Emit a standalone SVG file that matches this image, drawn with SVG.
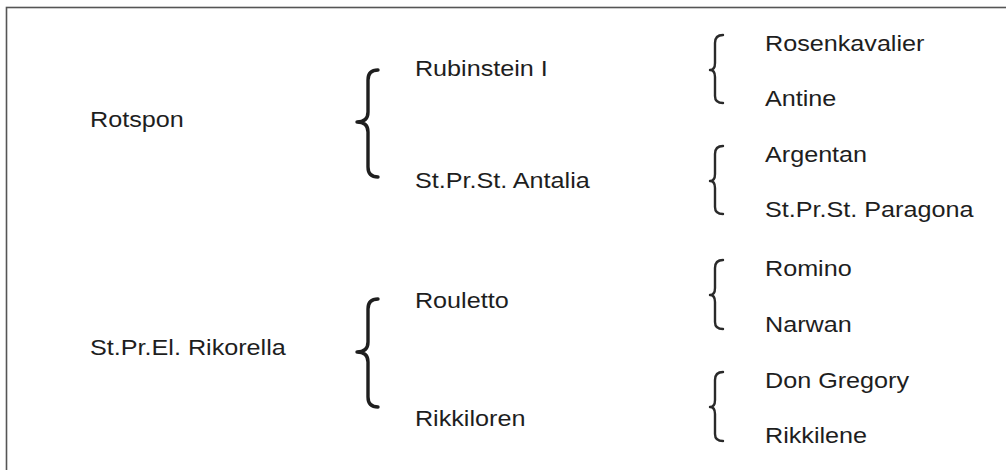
<svg xmlns="http://www.w3.org/2000/svg" width="1006" height="470" viewBox="0 0 1006 470">
<style>
.t{font-family:"Liberation Sans",Arial,sans-serif;font-size:22px;fill:#1e1e1e}
.big{fill:none;stroke:#1e1e1e;stroke-width:3.4;stroke-linecap:round;stroke-linejoin:round}
.sm{fill:none;stroke:#2a2a2a;stroke-width:2.4;stroke-linecap:round;stroke-linejoin:round}
</style>
<rect x="6.5" y="7.5" width="1010" height="480" fill="#fff" stroke="#555" stroke-width="1.6"/>
<g id="connectors">
<path class="big" d="M378,70 Q368,70 368,80 L368,112 Q368,122 357,122 Q368,122 368,132 L368,167 Q368,177 378,177"/>
<path class="big" d="M378,299 Q368,299 368,309 L368,342 Q368,352 357,352 Q368,352 368,362 L368,397 Q368,407 378,407"/>
<path class="sm" d="M723,35 Q715,35 715,43 L715,63 Q715,70 710,70 Q715,70 715,77 L715,96 Q715,103 723,103"/>
<path class="sm" d="M723,146 Q715,146 715,154 L715,174 Q715,181 710,181 Q715,181 715,188 L715,207 Q715,214 723,214"/>
<path class="sm" d="M723,260 Q715,260 715,268 L715,288 Q715,295 710,295 Q715,295 715,302 L715,322 Q715,329 723,329"/>
<path class="sm" d="M723,372 Q715,372 715,380 L715,400 Q715,407 710,407 Q715,407 715,414 L715,434 Q715,441 723,441"/>
</g>
<g transform="scale(1.145 1)">
<g id="n-rotspon"><text class="t" x="78.6" y="127">Rotspon</text></g>
<g id="n-rikorella"><text class="t" x="78.6" y="355">St.Pr.El. Rikorella</text></g>
<g id="n-rubinstein"><text class="t" x="362.4" y="76">Rubinstein I</text></g>
<g id="n-antalia"><text class="t" x="362.4" y="188">St.Pr.St. Antalia</text></g>
<g id="n-rouletto"><text class="t" x="362.4" y="308">Rouletto</text></g>
<g id="n-rikkiloren"><text class="t" x="362.4" y="426">Rikkiloren</text></g>
<g id="n-rosenkavalier"><text class="t" x="668.1" y="51">Rosenkavalier</text></g>
<g id="n-antine"><text class="t" x="668.1" y="106">Antine</text></g>
<g id="n-argentan"><text class="t" x="668.1" y="162">Argentan</text></g>
<g id="n-paragona"><text class="t" x="668.1" y="217">St.Pr.St. Paragona</text></g>
<g id="n-romino"><text class="t" x="668.1" y="276">Romino</text></g>
<g id="n-narwan"><text class="t" x="668.1" y="332">Narwan</text></g>
<g id="n-dongregory"><text class="t" x="668.1" y="388">Don Gregory</text></g>
<g id="n-rikkilene"><text class="t" x="668.1" y="443">Rikkilene</text></g>
</g>
</svg>
